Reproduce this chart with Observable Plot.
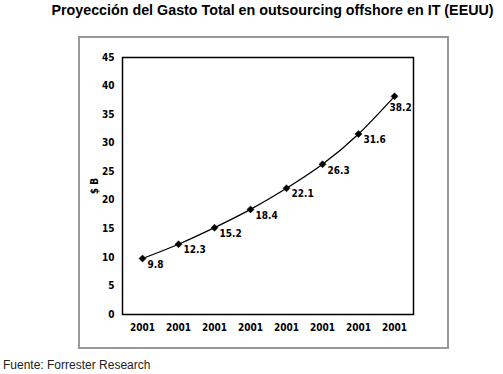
<!DOCTYPE html>
<html><head><meta charset="utf-8">
<script src="https://cdn.jsdelivr.net/npm/d3@7"></script>
<script src="https://cdn.jsdelivr.net/npm/@observablehq/plot@0.6"></script>
<style>
body{margin:0;background:#fff;width:503px;height:374px;position:relative;overflow:hidden;font-family:"Liberation Sans",Arial,sans-serif;}
#title{height:30px;line-height:30px;text-align:center;font-weight:bold;font-size:14.3px;padding-left:42px;color:#000;position:relative;top:-5px;}
#frame{position:absolute;left:78px;top:36px;width:367px;height:309px;border:2px solid #999;}
#chart{position:absolute;left:0;top:30px;}
#caption{position:absolute;left:3px;top:358px;font-size:12px;color:#222;}
</style></head><body>
<div id="title">Proyección del Gasto Total en outsourcing offshore en IT (EEUU)</div>
<div id="frame"></div>
<div id="chart"></div>
<div id="caption">Fuente: Forrester Research</div>
<script>
const years = ["2001","2001","2001","2001","2001","2001","2001","2001"];
const values = [9.8, 12.3, 15.2, 18.4, 22.1, 26.3, 31.6, 38.2];
const yTicks = [0,5,10,15,20,25,30,35,40,45];

const data = values.map((v,i)=>({i, v}));
const last = data.length - 1;
const fnt = '"DejaVu Sans Condensed","DejaVu Sans",sans-serif';

const chart = Plot.plot({
  width: 503, height: 325,
  marginTop: 27, marginBottom: 41, marginLeft: 122, marginRight: 90,
  style: {fontFamily: fnt, fontSize: "10px", fontWeight: "bold", background: "transparent", color: "#000"},
  x: {type: "point", domain: d3.range(years.length), padding: 0.5, tickFormat: i => years[i], tickSize: 0, tickPadding: 9, label: null},
  y: {domain: [0,45], ticks: yTicks, tickSize: 0, tickPadding: 8, label: "$ B", labelAnchor: "center", labelOffset: 32, labelArrow: "none"},
  marks: [
    Plot.frame({stroke: "#000", strokeWidth: 1.5}),
    Plot.line(data, {x: "i", y: "v", curve: "natural", stroke: "#000", strokeWidth: 1.3}),
    Plot.dot(data, {x: "i", y: "v", symbol: "square", rotate: 45, r: 2.8, fill: "#000", stroke: "#000", strokeWidth: 0.5}),
    Plot.text(data.filter(d => d.i !== last), {x: "i", y: "v", text: d => d.v.toFixed(1), dx: 5, dy: 6, textAnchor: "start", fontSize: 10, fontWeight: "bold", fill: "#000"}),
    Plot.text(data.filter(d => d.i === last), {x: "i", y: "v", text: d => d.v.toFixed(1), dx: -5, dy: 11, textAnchor: "start", fontSize: 10, fontWeight: "bold", fill: "#000"})
  ]
});
document.getElementById("chart").appendChild(chart);
</script>
</body></html>
